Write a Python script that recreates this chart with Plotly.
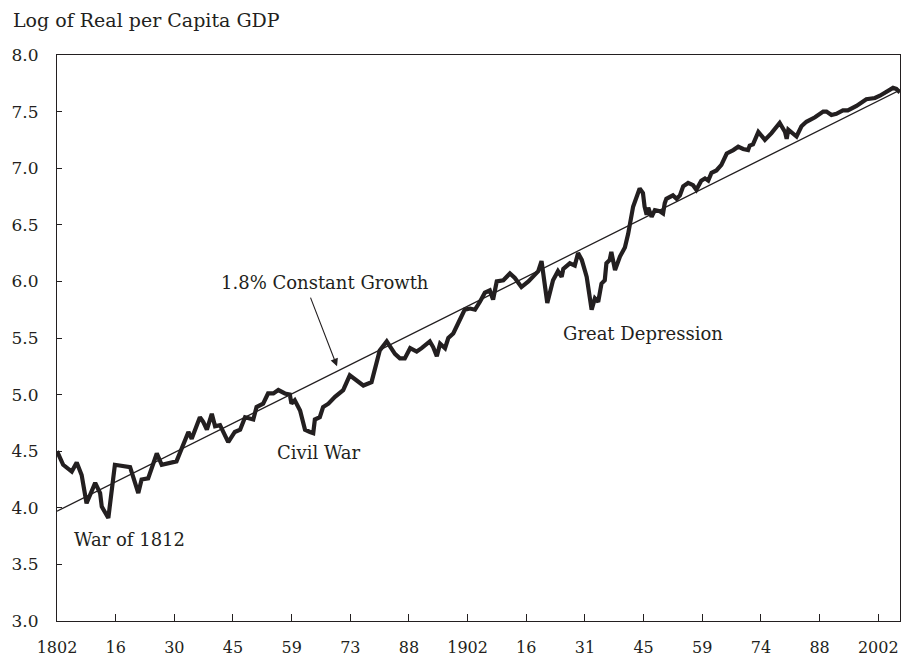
import plotly.graph_objects as go

# Log of real per capita GDP
years = [1802.0, 1803.5, 1805.6, 1806.8, 1808.0, 1809.2, 1811.3, 1812.5, 1812.9, 1814.5,
         1816.1, 1819.8, 1821.8, 1822.6, 1824.2, 1826.3, 1827.5, 1831.1, 1834.0, 1834.8,
         1836.8, 1837.6, 1838.5, 1839.7, 1840.5, 1841.7, 1843.7, 1845.3, 1846.6, 1847.8,
         1849.8, 1850.6, 1852.2, 1853.4, 1854.7, 1855.9, 1857.5, 1858.7, 1859.1, 1859.9,
         1861.2, 1862.4, 1863.6, 1864.4, 1864.8, 1866.0, 1866.8, 1868.1, 1869.7, 1871.7,
         1873.3, 1874.9, 1876.6, 1878.6, 1880.6, 1882.3, 1884.3, 1885.5, 1886.7, 1888.0,
         1889.6, 1890.8, 1892.8, 1893.6, 1894.5, 1895.3, 1896.5, 1897.3, 1898.5, 1899.7,
         1901.3, 1902.6, 1903.8, 1905.0, 1906.2, 1907.4, 1908.2, 1909.1, 1910.7, 1912.3,
         1913.5, 1915.1, 1916.8, 1918.4, 1919.2, 1920.0, 1920.8, 1921.4, 1922.8, 1924.0,
         1924.9, 1925.3, 1926.9, 1928.1, 1928.9, 1929.8, 1930.6, 1931.0, 1932.2, 1933.0,
         1933.8, 1934.6, 1935.4, 1935.8, 1936.6, 1937.0, 1937.9, 1939.1, 1940.3, 1941.1,
         1942.3, 1943.1, 1943.9, 1944.7, 1945.1, 1945.6, 1946.0, 1946.8, 1947.6, 1948.8,
         1949.6, 1950.0, 1950.4, 1952.0, 1952.9, 1953.7, 1954.5, 1955.7, 1956.9, 1957.7,
         1958.9, 1959.8, 1960.6, 1961.4, 1962.6, 1963.8, 1965.1, 1966.7, 1967.9, 1969.1,
         1970.3, 1970.7, 1971.5, 1972.8, 1974.4, 1976.0, 1978.0, 1979.3, 1979.7, 1980.1,
         1982.1, 1983.3, 1984.5, 1986.6, 1988.6, 1989.4, 1990.6, 1991.8, 1993.4, 1994.6,
         1996.7, 1999.1, 2001.2, 2002.4, 2004.0, 2005.6, 2006.4, 2007.3]
log_gdp = [4.50, 4.38, 4.32, 4.40, 4.29, 4.04, 4.22, 4.13, 4.01, 3.91,
           4.38, 4.36, 4.13, 4.25, 4.26, 4.48, 4.38, 4.41, 4.67, 4.61,
           4.80, 4.76, 4.69, 4.83, 4.72, 4.73, 4.58, 4.67, 4.69, 4.80,
           4.78, 4.89, 4.92, 5.01, 5.01, 5.04, 5.01, 5.00, 4.92, 4.95,
           4.86, 4.69, 4.67, 4.66, 4.78, 4.80, 4.89, 4.92, 4.98, 5.04,
           5.17, 5.13, 5.08, 5.11, 5.39, 5.47, 5.36, 5.32, 5.32, 5.41,
           5.38, 5.41, 5.47, 5.42, 5.34, 5.45, 5.41, 5.50, 5.54, 5.63,
           5.75, 5.76, 5.75, 5.82, 5.90, 5.92, 5.84, 6.00, 6.01, 6.07,
           6.03, 5.95, 6.00, 6.06, 6.09, 6.18, 5.95, 5.81, 6.01, 6.09,
           6.04, 6.11, 6.16, 6.14, 6.25, 6.19, 6.09, 6.04, 5.75, 5.85,
           5.82, 5.98, 6.01, 6.16, 6.19, 6.26, 6.10, 6.22, 6.30, 6.42,
           6.66, 6.73, 6.82, 6.78, 6.66, 6.59, 6.65, 6.57, 6.63, 6.62,
           6.60, 6.69, 6.73, 6.76, 6.73, 6.76, 6.84, 6.87, 6.85, 6.81,
           6.89, 6.91, 6.89, 6.96, 6.98, 7.03, 7.13, 7.16, 7.19, 7.17,
           7.16, 7.20, 7.21, 7.32, 7.25, 7.31, 7.40, 7.32, 7.26, 7.34,
           7.28, 7.37, 7.41, 7.45, 7.50, 7.50, 7.47, 7.48, 7.51, 7.51,
           7.55, 7.61, 7.62, 7.64, 7.67, 7.71, 7.70, 7.67]

# 1.8% constant growth trend line endpoints
trend_years = [1802.0, 2007.3]
trend_values = [3.97, 7.69]

# Axis ticks
x_tick_vals = [1802 + k * 200 / 14 for k in range(15)]
x_tick_text = ["1802", "16", "30", "45", "59", "73", "88", "1902", "16", "31",
               "45", "59", "74", "88", "2002"]
y_tick_vals = [3.0, 3.5, 4.0, 4.5, 5.0, 5.5, 6.0, 6.5, 7.0, 7.5, 8.0]

INK = "#231f20"
FONT = "DejaVu Serif"

fig = go.Figure()
fig.add_trace(go.Scatter(x=trend_years, y=trend_values, mode="lines",
                         line=dict(color=INK, width=1.3), hoverinfo="skip"))
fig.add_trace(go.Scatter(x=years, y=log_gdp, mode="lines",
                         line=dict(color=INK, width=4.2), hoverinfo="skip"))

ann_font = dict(family=FONT, size=18, color=INK)
fig.add_annotation(x=1867.3, y=5.99, text="1.8% Constant Growth", showarrow=False, font=ann_font)
fig.add_annotation(x=1870.2, y=5.25, ax=1863.6, ay=5.87, axref="x", ayref="y",
                   text="", showarrow=True, arrowhead=2, arrowsize=1.4, arrowwidth=1.1,
                   arrowcolor=INK)
fig.add_annotation(x=1944.7, y=5.54, text="Great Depression", showarrow=False, font=ann_font)
fig.add_annotation(x=1865.8, y=4.49, text="Civil War", showarrow=False, font=ann_font)
fig.add_annotation(x=1819.7, y=3.72, text="War of 1812", showarrow=False, font=ann_font)
fig.add_annotation(xref="paper", yref="paper", x=-0.054, y=1.062, xanchor="left",
                   yanchor="middle", text="Log of Real per Capita GDP", showarrow=False,
                   font=dict(family=FONT, size=19, color=INK))

fig.update_layout(
    width=902, height=663,
    margin=dict(l=57, r=2, t=55, b=42, autoexpand=False),
    paper_bgcolor="white", plot_bgcolor="white",
    showlegend=False,
    font=dict(family=FONT, size=17, color=INK),
)
fig.update_xaxes(range=[1802, 2007.3], tickvals=x_tick_vals, ticktext=x_tick_text,
                 automargin=False,
                 showgrid=False, zeroline=False, showline=True, linecolor=INK, linewidth=1.2,
                 mirror=True, ticks="inside", ticklen=7, tickcolor=INK, tickwidth=1,
                 ticklabelstandoff=12, tickfont=dict(family=FONT, size=16, color=INK))
fig.update_yaxes(range=[3.0, 8.0], tickvals=y_tick_vals, tickformat=".1f",
                 automargin=False,
                 showgrid=False, zeroline=False, showline=True, linecolor=INK, linewidth=1.2,
                 mirror=True, ticks="inside", ticklen=5, tickcolor=INK, tickwidth=1,
                 ticklabelstandoff=14, tickfont=dict(family=FONT, size=17, color=INK))

fig.write_html("out.html", config={"displayModeBar": False},
               post_script="document.body.style.margin='0';document.body.style.overflow='hidden';")
